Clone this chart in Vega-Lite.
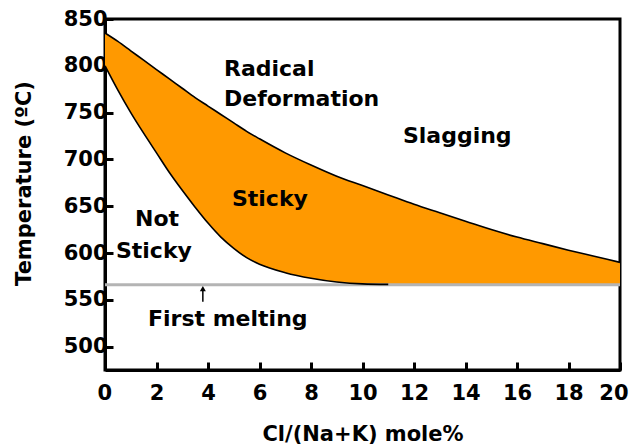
{
  "$schema": "https://vega.github.io/schema/vega-lite/v6.json",
  "width": 515,
  "height": 351,
  "autosize": {"type": "none"},
  "padding": {"left": 105, "top": 19, "right": 11, "bottom": 74},
  "background": "white",
  "config": {
    "view": {"stroke": "black", "strokeWidth": 3},
    "font": "DejaVu Sans",
    "axis": {
      "grid": false,
      "domainColor": "black",
      "domainWidth": 3,
      "tickColor": "black",
      "tickWidth": 3,
      "tickSize": -8,
      "labelFlush": false,
      "labelFont": "DejaVu Sans",
      "labelFontWeight": "bold",
      "labelFontSize": 21,
      "labelColor": "black",
      "titleFont": "DejaVu Sans",
      "titleFontWeight": "bold",
      "titleFontSize": 21,
      "titleColor": "black"
    }
  },
  "datasets": {
    "band": [
      {"x": 0, "upper": 835, "lower": 800},
      {"x": 0.5, "upper": 826, "lower": 774},
      {"x": 1, "upper": 816, "lower": 750},
      {"x": 1.5, "upper": 806, "lower": 728},
      {"x": 2, "upper": 796, "lower": 707},
      {"x": 2.5, "upper": 786, "lower": 686},
      {"x": 3, "upper": 776, "lower": 667},
      {"x": 3.5, "upper": 766, "lower": 649},
      {"x": 4, "upper": 757, "lower": 632},
      {"x": 4.5, "upper": 748, "lower": 617},
      {"x": 5, "upper": 739, "lower": 605},
      {"x": 5.5, "upper": 730, "lower": 595},
      {"x": 6, "upper": 722, "lower": 588},
      {"x": 7, "upper": 707, "lower": 579},
      {"x": 8, "upper": 694, "lower": 573},
      {"x": 9, "upper": 682, "lower": 569},
      {"x": 10, "upper": 672, "lower": 567},
      {"x": 11, "upper": 662, "lower": 566.5},
      {"x": 12, "upper": 652, "lower": 566.5},
      {"x": 13, "upper": 643, "lower": 566.5},
      {"x": 14, "upper": 634, "lower": 566.5},
      {"x": 15, "upper": 625, "lower": 566.5},
      {"x": 16, "upper": 617, "lower": 566.5},
      {"x": 17, "upper": 610, "lower": 566.5},
      {"x": 18, "upper": 603, "lower": 566.5},
      {"x": 19, "upper": 596.5, "lower": 566.5},
      {"x": 20, "upper": 590, "lower": 566.5}
    ],
    "melt": [
      {"x": 0, "y": 566},
      {"x": 20, "y": 566}
    ],
    "labels": [
      {"x": 4.62, "y": 797, "text": "Radical"},
      {"x": 4.62, "y": 764, "text": "Deformation"},
      {"x": 11.57, "y": 725, "text": "Slagging"},
      {"x": 4.93, "y": 658, "text": "Sticky"},
      {"x": 2.02, "y": 636, "text": "Not", "align": "center"},
      {"x": 1.9, "y": 602, "text": "Sticky", "align": "center"},
      {"x": 1.67, "y": 530, "text": "First melting"}
    ],
    "arrow": [
      {"x": 3.8, "y": 548, "y2": 562}
    ]
  },
  "encoding": {},
  "layer": [
    {
      "data": {"name": "band"},
      "mark": {"type": "area", "color": "#FF9900", "opacity": 1, "interpolate": "monotone"},
      "encoding": {
        "x": {"field": "x", "type": "quantitative", "scale": {"domain": [0, 20], "nice": false}, "axis": {"values": [0,2,4,6,8,10,12,14,16,18,20], "title": "Cl/(Na+K) mole%", "labelPadding": 20, "titlePadding": 20, "labelFlush": true, "labelFlushOffset": 8}},
        "y": {"field": "upper", "type": "quantitative", "scale": {"domain": [475, 850], "nice": false, "zero": false}, "axis": {"values": [500,550,600,650,700,750,800,850], "title": "Temperature (ºC)", "labelPadding": 6, "titlePadding": 29, "titleY": 164}},
        "y2": {"field": "lower"}
      }
    },
    {
      "data": {"name": "melt"},
      "mark": {"type": "line", "color": "#B4B4B4", "strokeWidth": 3},
      "encoding": {
        "x": {"field": "x", "type": "quantitative"},
        "y": {"field": "y", "type": "quantitative"}
      }
    },
    {
      "data": {"name": "band"},
      "mark": {"type": "line", "color": "black", "strokeWidth": 1.6, "interpolate": "monotone"},
      "encoding": {
        "x": {"field": "x", "type": "quantitative"},
        "y": {"field": "upper", "type": "quantitative"}
      }
    },
    {
      "data": {"name": "band"},
      "transform": [{"filter": "datum.x <= 11"}],
      "mark": {"type": "line", "color": "black", "strokeWidth": 1.6, "interpolate": "monotone"},
      "encoding": {
        "x": {"field": "x", "type": "quantitative"},
        "y": {"field": "lower", "type": "quantitative"}
      }
    },
    {
      "data": {"name": "arrow"},
      "mark": {"type": "rule", "color": "black", "strokeWidth": 1.5},
      "encoding": {
        "x": {"field": "x", "type": "quantitative"},
        "y": {"field": "y", "type": "quantitative"},
        "y2": {"field": "y2"}
      }
    },
    {
      "data": {"name": "arrow"},
      "mark": {"type": "point", "shape": "triangle-up", "filled": true, "color": "black", "size": 35, "opacity": 1},
      "encoding": {
        "x": {"field": "x", "type": "quantitative"},
        "y": {"field": "y2", "type": "quantitative"}
      }
    },
    {
      "data": {"name": "labels"},
      "mark": {"type": "text", "fontSize": 22, "fontWeight": "bold", "font": "DejaVu Sans", "color": "black", "baseline": "middle", "align": {"expr": "datum.align ? datum.align : 'left'"}},
      "encoding": {
        "x": {"field": "x", "type": "quantitative"},
        "y": {"field": "y", "type": "quantitative"},
        "text": {"field": "text"}
      }
    }
  ]
}
